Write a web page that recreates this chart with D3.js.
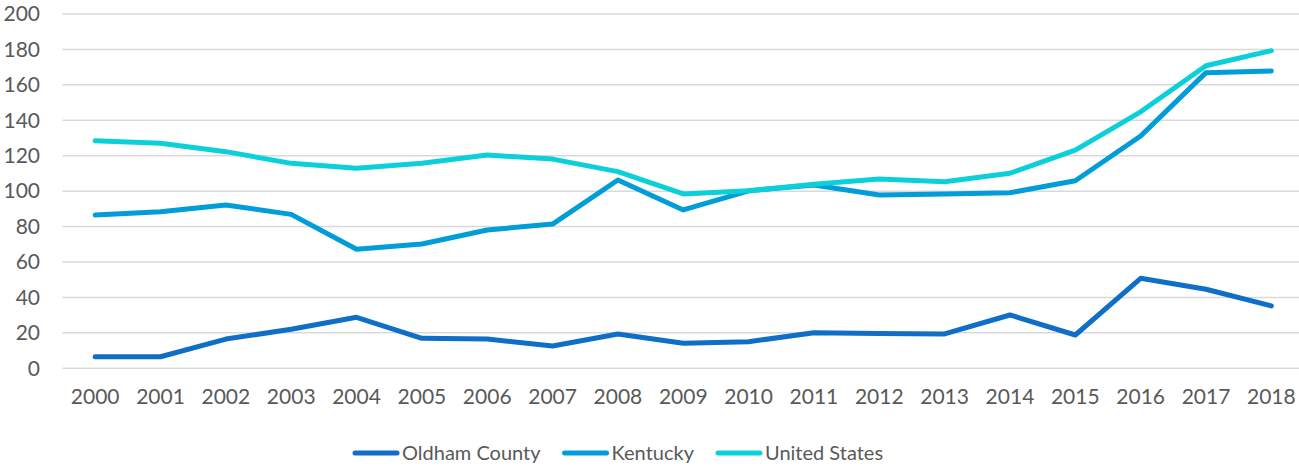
<!DOCTYPE html>
<html>
<head>
<meta charset="utf-8">
<script src="https://cdn.jsdelivr.net/npm/d3@7"></script>
<style>
  html, body { margin: 0; padding: 0; background: #fff; }
  text { font-family: Lato, "Open Sans", sans-serif; fill: #595959; }
</style>
</head>
<body>
<div id="chart"></div>
<script>
const years = ["2000","2001","2002","2003","2004","2005","2006","2007","2008","2009",
  "2010","2011","2012","2013","2014","2015","2016","2017","2018"];
const oldham = [6.5, 6.5, 16.5, 22, 28.8, 16.9, 16.5, 12.6, 19.4, 14.1,
  15, 20.1, 19.7, 19.4, 30.1, 18.8, 50.8, 44.6, 35.2];
const kentucky = [86.5, 88.4, 92.2, 86.9, 67.2, 70.2, 78.1, 81.4, 106.3, 89.4,
  100.2, 103.5, 97.8, 98.4, 99.1, 105.9, 131.1, 166.9, 167.8];
const unitedStates = [128.5, 127, 122.3, 115.7, 112.9, 115.7, 120.4, 118.1, 111, 98.4,
  100.2, 103.9, 106.8, 105.3, 110.1, 123.2, 144.8, 170.8, 179.3];
const yTicks = [0, 20, 40, 60, 80, 100, 120, 140, 160, 180, 200];
const seriesNames = ["Oldham County", "Kentucky", "United States"];
const seriesColors = ["#0F6FC6", "#009DD9", "#0BD0D9"];

const width = 1299, height = 469;
const series = [oldham, kentucky, unitedStates].map((vals, i) => ({
  name: seriesNames[i], color: seriesColors[i], values: vals
}));

const svg = d3.select("#chart").append("svg")
  .attr("width", width).attr("height", height);

const x = d3.scaleBand().domain(years).range([62.5, 1304]);
const y = d3.scaleLinear().domain([0, 200]).range([368.3, 14]);

// gridlines
svg.append("g").selectAll("line").data(yTicks).enter().append("line")
  .attr("x1", 62.5).attr("x2", 1299)
  .attr("y1", d => y(d)).attr("y2", d => y(d))
  .attr("stroke", "#D9D9D9").attr("stroke-width", 1.5);

// y axis labels
const yAxis = svg.append("g").attr("transform", "translate(40,0)")
  .call(d3.axisLeft(y).tickValues(yTicks).tickSize(0).tickPadding(0));
yAxis.select(".domain").remove();
yAxis.selectAll("text").style("font-size", "21px").attr("fill", "#595959")
  .style("font-family", "Lato, 'Open Sans', sans-serif");

// x axis labels
const xAxis = svg.append("g").attr("transform", "translate(0,368.3)")
  .call(d3.axisBottom(x).tickSize(0).tickPadding(21));
xAxis.select(".domain").remove();
xAxis.selectAll("text").style("font-size", "21px").attr("fill", "#595959")
  .style("font-family", "Lato, 'Open Sans', sans-serif");

// lines
const line = d3.line()
  .x((d, i) => x(years[i]) + x.bandwidth() / 2)
  .y(d => y(d));

svg.append("g").selectAll("path").data(series).enter().append("path")
  .attr("d", d => line(d.values))
  .attr("fill", "none")
  .attr("stroke", d => d.color)
  .attr("stroke-width", 5)
  .attr("stroke-linejoin", "round")
  .attr("stroke-linecap", "round");

// legend
const legend = svg.append("g").attr("transform", "translate(0,453)");
let lx = 355;
series.forEach(s => {
  legend.append("line")
    .attr("x1", lx).attr("x2", lx + 42)
    .attr("stroke", s.color).attr("stroke-width", 5)
    .attr("stroke-linecap", "round");
  const t = legend.append("text")
    .attr("x", lx + 47).attr("dy", "0.35em")
    .style("font-size", "20px")
    .text(s.name);
  lx += 47 + t.node().getComputedTextLength() + 24;
});
</script>
</body>
</html>
